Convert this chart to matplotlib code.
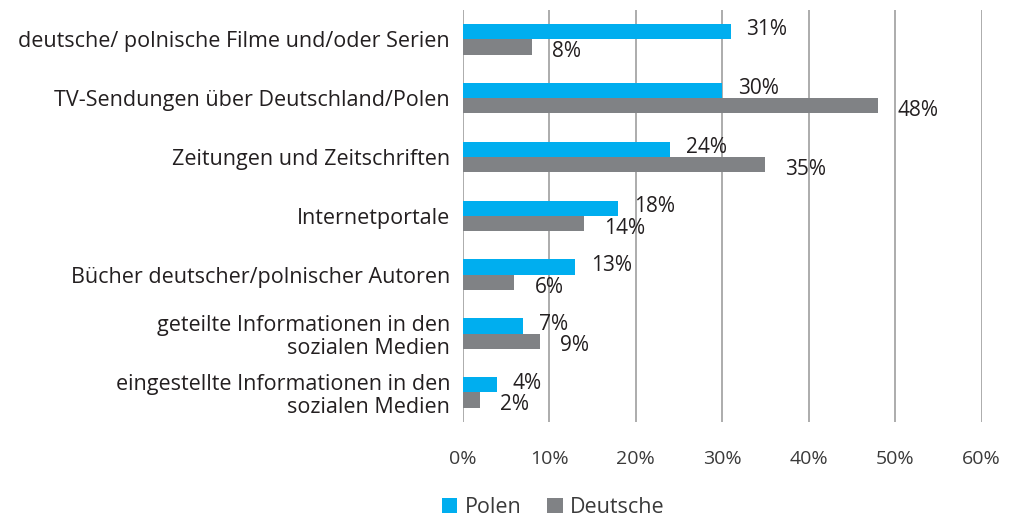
import numpy as np
import matplotlib
matplotlib.use("Agg")
import matplotlib.pyplot as plt

# Daten
kategorien = [
    "deutsche/ polnische Filme und/oder Serien",
    "TV-Sendungen über Deutschland/Polen",
    "Zeitungen und Zeitschriften",
    "Internetportale",
    "Bücher deutscher/polnischer Autoren",
    "geteilte Informationen in den\nsozialen Medien",
    "eingestellte Informationen in den\nsozialen Medien",
]
polen = [31, 30, 24, 18, 13, 7, 4]
deutsche = [8, 48, 35, 14, 6, 9, 2]
x_ticks = [0, 10, 20, 30, 40, 50, 60]

blau = "#00AEEF"
grau = "#808285"
text_farbe = "#231F20"

plt.rcParams['font.family'] = ['Open Sans', 'DejaVu Sans']

fig = plt.figure(figsize=(10.1, 5.17), dpi=100)
ax = fig.add_axes([0.458, 0.184, 0.514, 0.797])

y = np.arange(len(kategorien))
h = 0.26
ax.barh(y - h / 2, polen, height=h, color=blau, label="Polen", zorder=3)
ax.barh(y + h / 2, deutsche, height=h, color=grau, label="Deutsche", zorder=3)

# Beschriftungen der Balken
for i in range(len(kategorien)):
    ax.text(polen[i] + 1.8, y[i] - h / 2 - 0.03, f"{polen[i]}%", va="center", ha="left",
            fontsize=15, color=text_farbe)
    ax.text(deutsche[i] + 2.3, y[i] + h / 2 + 0.08, f"{deutsche[i]}%", va="center", ha="left",
            fontsize=15, color=text_farbe)

ax.set_xlim(0, 60)
ax.set_ylim(len(kategorien) - 0.5, -0.5)
ax.set_xticks(x_ticks)
ax.set_xticklabels([f"{t}%" for t in x_ticks], fontsize=14, color="#3a3a3a")
ax.set_yticks(y)
ax.set_yticklabels(kategorien, fontsize=15.5, color=text_farbe, linespacing=1.1)
ax.tick_params(axis="y", length=0, pad=9)
ax.tick_params(axis="x", length=0, pad=20)

ax.grid(axis="x", color="#A6A6A6", linewidth=1.3, zorder=0)
for s in ax.spines.values():
    s.set_visible(False)

fig.legend(loc="lower center", bbox_to_anchor=(0.548, -0.04), ncol=2, frameon=False,
           fontsize=15.5, handlelength=0.7, handleheight=0.7, handletextpad=0.35,
           columnspacing=1.2, labelcolor="#3a3a3a")

fig.savefig("out.png", dpi=100)
